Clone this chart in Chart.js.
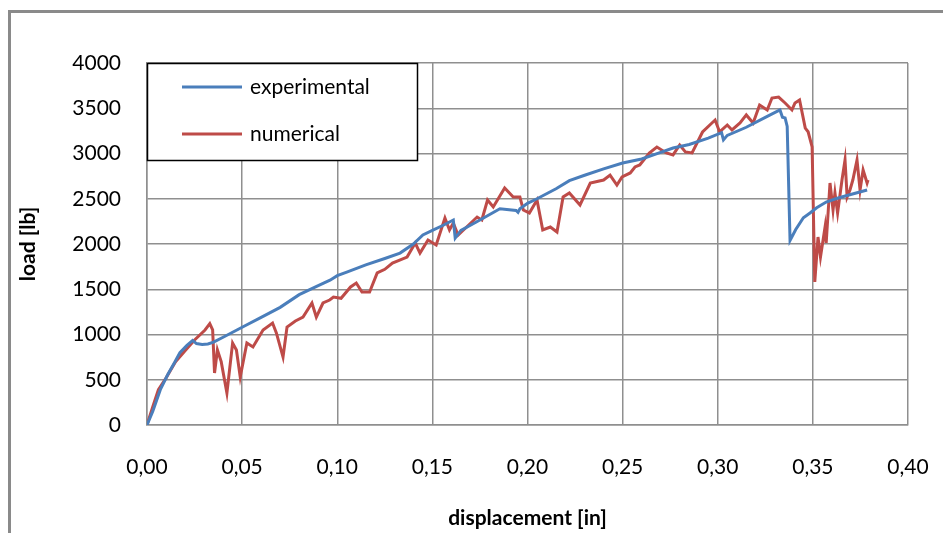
<!DOCTYPE html>
<html>
<head>
<meta charset="utf-8">
<script src="https://cdn.jsdelivr.net/npm/chart.js@4/dist/chart.umd.min.js"></script>
<style>
html,body{margin:0;padding:0;background:#fff;overflow:hidden;}
#wrap{position:relative;width:943px;height:533px;}
</style>
</head>
<body>
<div id="wrap"><canvas id="c" width="943" height="533"></canvas></div>
<script>
const seriesNames = ['experimental', 'numerical'];
const xTickLabels = ['0,00','0,05','0,10','0,15','0,20','0,25','0,30','0,35','0,40'];
const yTickLabels = ['0','500','1000','1500','2000','2500','3000','3500','4000'];
const xTitle = 'displacement [in]';
const yTitle = 'load [lb]';

const expX = [0,0.003,0.007,0.011,0.0145,0.0173,0.021,0.024,0.026,0.029,0.032,0.035,0.04,0.05,0.06,0.07,0.08,0.09,0.0962,0.10,0.105,0.115,0.125,0.133,0.14,0.145,0.15,0.156,0.161,0.162,0.165,0.175,0.1855,0.194,0.195,0.196,0.20,0.205,0.215,0.222,0.23,0.24,0.25,0.26,0.2696,0.2765,0.285,0.295,0.302,0.303,0.305,0.315,0.325,0.3327,0.334,0.3354,0.3365,0.338,0.341,0.345,0.3485,0.352,0.357,0.362,0.367,0.3785];
const expY = [0,150,390,560,690,800,880,935,900,890,895,915,970,1080,1190,1300,1440,1540,1600,1650,1690,1770,1840,1900,2000,2100,2150,2210,2265,2066,2150,2265,2390,2370,2350,2390,2450,2500,2610,2700,2760,2830,2895,2940,3010,3060,3100,3170,3230,3150,3200,3290,3400,3481,3400,3393,3300,2040,2160,2290,2343,2400,2464,2500,2530,2597];

const numX = [0,0.003,0.006,0.010,0.015,0.020,0.025,0.0305,0.033,0.0345,0.0355,0.037,0.039,0.042,0.045,0.047,0.049,0.0525,0.0557,0.061,0.066,0.068,0.0715,0.0736,0.078,0.082,0.0867,0.089,0.0925,0.096,0.098,0.102,0.107,0.110,0.113,0.117,0.121,0.125,0.129,0.1367,0.141,0.1435,0.1477,0.152,0.1566,0.159,0.161,0.1635,0.168,0.1735,0.176,0.179,0.182,0.188,0.1925,0.196,0.1978,0.201,0.205,0.208,0.212,0.2155,0.2187,0.222,0.2276,0.233,0.240,0.2434,0.247,0.2497,0.254,0.2565,0.259,0.264,0.268,0.273,0.2765,0.280,0.283,0.2865,0.292,0.2986,0.301,0.305,0.3075,0.3117,0.315,0.3186,0.322,0.326,0.3285,0.332,0.3354,0.339,0.3406,0.343,0.346,0.3475,0.3496,0.351,0.3527,0.354,0.3564,0.357,0.359,0.3606,0.3616,0.363,0.3653,0.3669,0.368,0.3695,0.371,0.3732,0.3748,0.3764,0.3785,0.379];
const numY = [0,200,390,520,700,820,940,1050,1120,1050,575,829,700,354,906,829,530,906,862,1050,1127,1017,751,1083,1150,1193,1348,1193,1348,1381,1414,1400,1525,1569,1470,1470,1680,1720,1790,1856,2011,1900,2044,1989,2287,2155,2232,2099,2188,2298,2265,2486,2409,2619,2520,2520,2376,2343,2486,2155,2188,2133,2520,2564,2431,2674,2707,2762,2652,2740,2785,2851,2873,3006,3072,3006,2984,3094,3017,3006,3238,3370,3238,3315,3260,3337,3426,3337,3536,3481,3613,3624,3558,3481,3558,3591,3280,3240,3072,1580,2077,1856,2188,2011,2674,2376,2564,2343,2707,2928,2520,2597,2707,2928,2597,2818,2674,2707];

const seriesColors = ['#4a7ebb', '#be4b48'];
const FONT = 'Lato';

function pts(xs, ys){ return xs.map((x,i)=>({x:x, y:ys[i]})); }

const framePlugin = {
  id: 'frame',
  beforeDraw(chart){
    const ctx = chart.ctx;
    ctx.save();
    ctx.fillStyle = '#fff';
    ctx.fillRect(0,0,chart.width,chart.height);
    ctx.strokeStyle = '#8a8a8a';
    ctx.lineWidth = 3;
    ctx.beginPath();
    ctx.moveTo(9.5, chart.height + 5);
    ctx.lineTo(9.5, 11.5);
    ctx.lineTo(chart.width + 5, 11.5);
    ctx.stroke();
    ctx.restore();
  }
};

const legendBoxPlugin = {
  id: 'legendBox',
  afterDraw(chart){
    const ctx = chart.ctx;
    const a = chart.chartArea;
    const x0 = a.left, y0 = a.top, w = 270, h = 97;
    ctx.save();
    ctx.fillStyle = '#fff';
    ctx.fillRect(x0, y0, w, h);
    ctx.strokeStyle = '#000';
    ctx.lineWidth = 1.5;
    ctx.strokeRect(x0 + 0.5, y0 + 0.5, w, h);
    const rows = [24, 71];
    chart.data.datasets.forEach((ds, i) => {
      const y = y0 + rows[i];
      ctx.strokeStyle = ds.borderColor;
      ctx.lineWidth = 3;
      ctx.beginPath();
      ctx.moveTo(x0 + 35, y);
      ctx.lineTo(x0 + 95, y);
      ctx.stroke();
      ctx.fillStyle = '#000';
      ctx.font = '21px ' + FONT;
      ctx.textBaseline = 'middle';
      ctx.fillText(ds.label, x0 + 103, y);
    });
    ctx.restore();
  }
};

new Chart(document.getElementById('c'), {
  type: 'scatter',
  data: {
    datasets: [
      { label: seriesNames[0], data: pts(expX, expY), showLine: true, borderColor: seriesColors[0], backgroundColor: seriesColors[0], borderWidth: 3, pointRadius: 0, tension: 0 },
      { label: seriesNames[1], data: pts(numX, numY), showLine: true, borderColor: seriesColors[1], backgroundColor: seriesColors[1], borderWidth: 3, pointRadius: 0, tension: 0 }
    ]
  },
  options: {
    responsive: false,
    animation: false,
    devicePixelRatio: 1,
    layout: { padding: { left: 10, right: 35, top: 63, bottom: 0 } },
    plugins: { legend: { display: false }, tooltip: { enabled: false } },
    scales: {
      x: {
        type: 'linear', min: 0, max: 0.4,
        afterFit(s){ s.height = 108; s.paddingLeft = 0; s.paddingRight = 0; },
        ticks: { stepSize: 0.05, padding: 30, color: '#000', font: { family: FONT, size: 21 },
                 callback: (v, i) => xTickLabels[i] },
        grid: { color: '#8f8f8f', lineWidth: 1.5, drawTicks: false },
        border: { color: '#8f8f8f', width: 1.5 },
        title: { display: true, text: xTitle, color: '#000', font: { family: FONT, size: 21, weight: 'bold' }, padding: { top: 0, bottom: 2 } }
      },
      y: {
        min: 0, max: 4000,
        afterFit(s){ s.width = 137; s.paddingTop = 0; s.paddingBottom = 0; },
        ticks: { stepSize: 500, padding: 26, color: '#000', font: { family: FONT, size: 21 },
                 callback: (v, i) => yTickLabels[i] },
        grid: { color: '#8f8f8f', lineWidth: 1.5, drawTicks: false },
        border: { color: '#8f8f8f', width: 1.5 },
        title: { display: true, text: yTitle, color: '#000', font: { family: FONT, size: 21, weight: 'bold' }, padding: { top: 6, bottom: 0 } }
      }
    }
  },
  plugins: [framePlugin, legendBoxPlugin]
});
</script>
</body>
</html>
